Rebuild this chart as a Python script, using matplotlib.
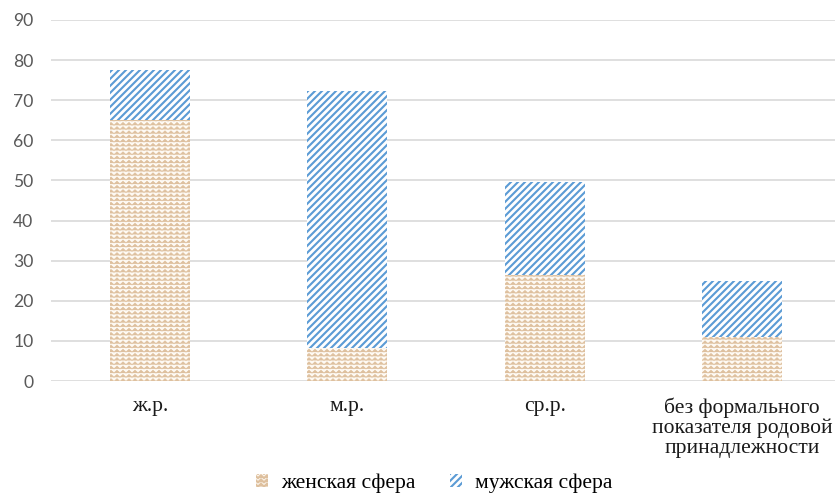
import warnings
import numpy as np
import matplotlib
matplotlib.use("Agg")
import matplotlib.pyplot as plt
import matplotlib.hatch as mhatch
from matplotlib.path import Path

warnings.filterwarnings("ignore", message="hatch must consist")

# Data
categories = ["ж.р.", "м.р.", "ср.р.",
              "без формального\nпоказателя родовой\nпринадлежности"]
female_sphere = [65.0, 8.2, 26.5, 11.0]
male_sphere = [12.6, 64.1, 23.1, 14.0]
series_labels = ["женская сфера", "мужская сфера"]
y_ticks = [0, 10, 20, 30, 40, 50, 60, 70, 80, 90]


class ZigZagHatch(mhatch.HatchPatternBase):
    """Horizontal zigzag rows, selected with the 'z' hatch character."""

    def __init__(self, hatch, density):
        n = hatch.count("z")
        self.num_rows = 10 * n
        self.num_periods = 7 * n
        self.num_vertices = self.num_rows * (2 * self.num_periods + 1)

    def set_vertices_and_codes(self, vertices, codes):
        if not self.num_rows:
            return
        k = 2 * self.num_periods + 1
        xs = np.linspace(0.0, 1.0, k)
        amp = 0.33 / self.num_rows
        offs = np.where(np.arange(k) % 2 == 0, -amp, amp)
        for i in range(self.num_rows):
            y0 = (i + 0.5) / self.num_rows
            vertices[i * k:(i + 1) * k, 0] = xs
            vertices[i * k:(i + 1) * k, 1] = y0 + offs
            codes[i * k] = Path.MOVETO
            codes[i * k + 1:(i + 1) * k] = Path.LINETO


mhatch._hatch_types.append(ZigZagHatch)

DPI = 84
fig = plt.figure(figsize=(835 / DPI, 494 / DPI), dpi=DPI)
ax = fig.add_axes([51 / 835, 1 - 381 / 494, 790 / 835, 361 / 494])

x = np.arange(len(categories))
width = 0.405

plt.rcParams["hatch.linewidth"] = 0.7
b1 = ax.bar(x, female_sphere, width, color="#FEFAF4", edgecolor="#DEC09E",
            linewidth=0, hatch="zz", label=series_labels[0], zorder=3)
plt.rcParams["hatch.linewidth"] = 1.8
b2 = ax.bar(x, male_sphere, width, bottom=female_sphere, color="white",
            edgecolor="#5B9BD5", linewidth=0, hatch="////",
            label=series_labels[1], zorder=3)
for bars, lw in ((b1, 0.7), (b2, 1.8)):
    for p in bars:
        if hasattr(p, "set_hatch_linewidth"):
            p.set_hatch_linewidth(lw)

ax.set_xlim(-0.5, len(categories) - 0.5)
ax.set_ylim(0, 90)
ax.set_yticks(y_ticks)
ax.set_yticklabels([str(v) for v in y_ticks], fontfamily="Lato",
                   fontsize=15, color="#595959")
ax.set_xticks(x)
ax.set_xticklabels(categories, fontfamily="Liberation Serif", fontsize=18.5,
                   color="#1a1a1a", linespacing=1.05)
ax.tick_params(axis="y", length=0, pad=15)
ax.tick_params(axis="x", length=0, pad=14)
ax.grid(axis="y", color="#D9D9D9", linewidth=1.4, zorder=0)
ax.set_axisbelow(True)
for s in ax.spines.values():
    s.set_visible(False)

leg = fig.legend(handles=[b1, b2], labels=series_labels, loc="center",
                 bbox_to_anchor=(434 / 835, 1 - 483 / 494), ncol=2,
                 frameon=False, handlelength=0.55, handleheight=0.55,
                 handletextpad=0.6, columnspacing=1.6,
                 prop={"family": "Liberation Serif", "size": 18.5})

fig.savefig("out.png", dpi=DPI)
